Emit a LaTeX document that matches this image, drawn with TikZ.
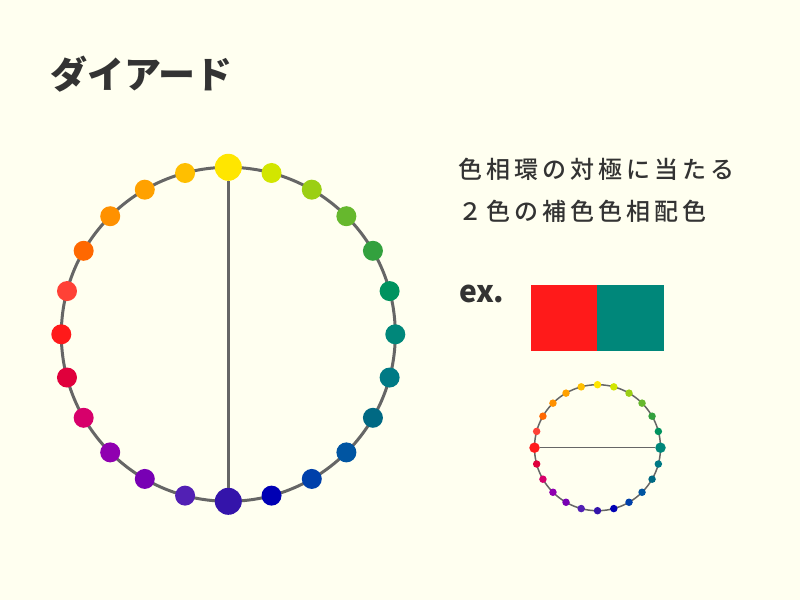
\documentclass[tikz,border=0pt]{standalone}
\usepackage{fontspec}
\setmainfont{Noto Sans CJK JP}
\newfontfamily\jpspaced[LetterSpace=17, UprightFont={* Medium}]{Noto Sans CJK JP}

\definecolor{paper}{HTML}{FFFFF0}
\definecolor{ink}{HTML}{333333}
\definecolor{rim}{HTML}{666666}
\definecolor{hue0}{HTML}{FFE600}
\definecolor{hue1}{HTML}{D2E600}
\definecolor{hue2}{HTML}{9BCF14}
\definecolor{hue3}{HTML}{66B82D}
\definecolor{hue4}{HTML}{33A13E}
\definecolor{hue5}{HTML}{00935F}
\definecolor{hue6}{HTML}{00877A}
\definecolor{hue7}{HTML}{007A85}
\definecolor{hue8}{HTML}{006983}
\definecolor{hue9}{HTML}{0055A2}
\definecolor{hue10}{HTML}{0040AA}
\definecolor{hue11}{HTML}{0000B4}
\definecolor{hue12}{HTML}{3414AA}
\definecolor{hue13}{HTML}{5220B4}
\definecolor{hue14}{HTML}{7800B4}
\definecolor{hue15}{HTML}{9000B0}
\definecolor{hue16}{HTML}{D7006B}
\definecolor{hue17}{HTML}{E0003C}
\definecolor{hue18}{HTML}{FF1A1A}
\definecolor{hue19}{HTML}{FF4136}
\definecolor{hue20}{HTML}{FF6800}
\definecolor{hue21}{HTML}{FF9100}
\definecolor{hue22}{HTML}{FFA100}
\definecolor{hue23}{HTML}{FFBF00}

\tikzset{
    huedot/.style={circle, inner sep=0pt, minimum size=20pt},
    bighuedot/.style={huedot, minimum size=27pt},
    minidot/.style={circle, inner sep=0pt, minimum size=7.5pt},
    bigminidot/.style={minidot, minimum size=10.5pt},
    label text/.style={inner sep=0pt, anchor=west, text=ink}
}

\begin{document}
\begin{tikzpicture}[x=1pt, y=-1pt]
                \fill[paper] (0, 0) rectangle (800, 600);
                \useasboundingbox (0, 0) rectangle (800, 600);

                \node[label text, font=\fontsize{37}{40}\selectfont\bfseries] (title) at (50, 74.5) {ダイアード};
                \node[label text, font=\jpspaced\fontsize{24}{28}\selectfont] (line1) at (458, 169) {色相環の対極に当たる};
                \node[label text, font=\jpspaced\fontsize{24}{28}\selectfont] (line2) at (458, 211) {２色の補色色相配色};
                \node[label text, font=\fontsize{30}{34}\selectfont\bfseries] (ex) at (459, 293.5) {ex.};

                \fill[hue18] (531, 285) rectangle (597.3, 351);
                \fill[hue6] (597.3, 285) rectangle (664.3, 351);

                % big wheel
                \begin{scope}[shift={(228.3, 334.3)}]
                \draw[rim, line width=3pt] (0, 0) circle (167);
                \node[bighuedot, fill=hue0] (H0) at (-90:167) {};
                \node[huedot, fill=hue1] (H1) at (-75:167) {};
                \node[huedot, fill=hue2] (H2) at (-60:167) {};
                \node[huedot, fill=hue3] (H3) at (-45:167) {};
                \node[huedot, fill=hue4] (H4) at (-30:167) {};
                \node[huedot, fill=hue5] (H5) at (-15:167) {};
                \node[huedot, fill=hue6] (H6) at (0:167) {};
                \node[huedot, fill=hue7] (H7) at (15:167) {};
                \node[huedot, fill=hue8] (H8) at (30:167) {};
                \node[huedot, fill=hue9] (H9) at (45:167) {};
                \node[huedot, fill=hue10] (H10) at (60:167) {};
                \node[huedot, fill=hue11] (H11) at (75:167) {};
                \node[bighuedot, fill=hue12] (H12) at (90:167) {};
                \node[huedot, fill=hue13] (H13) at (105:167) {};
                \node[huedot, fill=hue14] (H14) at (120:167) {};
                \node[huedot, fill=hue15] (H15) at (135:167) {};
                \node[huedot, fill=hue16] (H16) at (150:167) {};
                \node[huedot, fill=hue17] (H17) at (165:167) {};
                \node[huedot, fill=hue18] (H18) at (180:167) {};
                \node[huedot, fill=hue19] (H19) at (195:167) {};
                \node[huedot, fill=hue20] (H20) at (210:167) {};
                \node[huedot, fill=hue21] (H21) at (225:167) {};
                \node[huedot, fill=hue22] (H22) at (240:167) {};
                \node[huedot, fill=hue23] (H23) at (255:167) {};
                \end{scope}

                \draw[rim, line width=2.5pt] (H0) to (H12);

                % small wheel
                \begin{scope}[shift={(597.5, 447.7)}]
                \draw[rim, line width=1.5pt] (0, 0) circle (63);
                \node[minidot, fill=hue0] (h0) at (-90:63) {};
                \node[minidot, fill=hue1] (h1) at (-75:63) {};
                \node[minidot, fill=hue2] (h2) at (-60:63) {};
                \node[minidot, fill=hue3] (h3) at (-45:63) {};
                \node[minidot, fill=hue4] (h4) at (-30:63) {};
                \node[minidot, fill=hue5] (h5) at (-15:63) {};
                \node[bigminidot, fill=hue6] (h6) at (0:63) {};
                \node[minidot, fill=hue7] (h7) at (15:63) {};
                \node[minidot, fill=hue8] (h8) at (30:63) {};
                \node[minidot, fill=hue9] (h9) at (45:63) {};
                \node[minidot, fill=hue10] (h10) at (60:63) {};
                \node[minidot, fill=hue11] (h11) at (75:63) {};
                \node[minidot, fill=hue12] (h12) at (90:63) {};
                \node[minidot, fill=hue13] (h13) at (105:63) {};
                \node[minidot, fill=hue14] (h14) at (120:63) {};
                \node[minidot, fill=hue15] (h15) at (135:63) {};
                \node[minidot, fill=hue16] (h16) at (150:63) {};
                \node[minidot, fill=hue17] (h17) at (165:63) {};
                \node[bigminidot, fill=hue18] (h18) at (180:63) {};
                \node[minidot, fill=hue19] (h19) at (195:63) {};
                \node[minidot, fill=hue20] (h20) at (210:63) {};
                \node[minidot, fill=hue21] (h21) at (225:63) {};
                \node[minidot, fill=hue22] (h22) at (240:63) {};
                \node[minidot, fill=hue23] (h23) at (255:63) {};
                \end{scope}

                \draw[rim, line width=1.5pt] (h18) to (h6);
            \end{tikzpicture}
\end{document}
